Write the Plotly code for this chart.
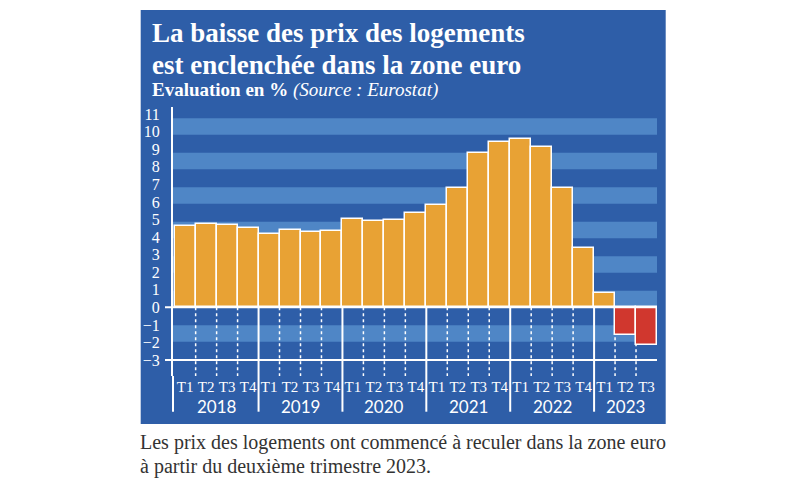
import plotly.graph_objects as go

# ==========================================
# Data
# ==========================================
years = ["2018", "2019", "2020", "2021", "2022", "2023"]
quarters = [
    "T1", "T2", "T3", "T4",  # 2018
    "T1", "T2", "T3", "T4",  # 2019
    "T1", "T2", "T3", "T4",  # 2020
    "T1", "T2", "T3", "T4",  # 2021
    "T1", "T2", "T3", "T4",  # 2022
    "T1", "T2", "T3",        # 2023
]
bar_years = (["2018"] * 4 + ["2019"] * 4 + ["2020"] * 4
             + ["2021"] * 4 + ["2022"] * 4 + ["2023"] * 3)
values = [
    4.65, 4.76, 4.69, 4.50,
    4.17, 4.40, 4.27, 4.33,
    5.01, 4.90, 4.95, 5.35,
    5.81, 6.81, 8.77, 9.43,
    9.60, 9.15, 6.79, 3.39,
    0.81, -1.58, -2.16,
]
y_ticks = list(range(-3, 12))

# ==========================================
# Geometry and colours
# (page pixels; the page body has an 8px margin)
# ==========================================
OFF = 8
W, H = 800 - OFF, 493 - OFF
L, R, T, B = 173 - OFF, 143, 107 - OFF, 117
PW, PH = W - L - R, H - T - B
Y_MIN, Y_MAX = -3.91, 11.41

BLUE = "#2e5ea8"
LIGHT = "#4f86c6"
ORANGE = "#e8a234"
RED = "#d0372e"
SERIF = "Liberation Serif"


def px_x(px):
    return (px - OFF - L) / PW


def px_y(py):
    return (H - B - (py - OFF)) / PH


def val_y(v):
    return (v - Y_MIN) / (Y_MAX - Y_MIN)


cats = [f"{y} {q}" for y, q in zip(bar_years, quarters)]
colors = [ORANGE if v >= 0 else RED for v in values]

fig = go.Figure()
fig.add_trace(go.Bar(
    x=cats, y=values,
    marker=dict(color=colors, line=dict(color="white", width=1.5)),
    hoverinfo="x+y",
))

shapes = []
# blue panel
shapes.append(dict(type="rect", xref="paper", yref="paper",
                   x0=px_x(140.7), x1=px_x(665.7), y0=px_y(424), y1=px_y(10),
                   fillcolor=BLUE, line=dict(width=0), layer="below"))
# light stripes
for k in range(-1, 6):
    b0 = k * 1.966
    shapes.append(dict(type="rect", xref="paper", yref="y",
                       x0=0, x1=1, y0=b0, y1=b0 + 0.94,
                       fillcolor=LIGHT, line=dict(width=0), layer="below"))

# separators under the zero line
for i in range(1, len(cats)):
    xb = i - 0.5
    if bar_years[i] != bar_years[i - 1]:
        shapes.append(dict(type="line", xref="x", yref="paper",
                           x0=xb, x1=xb, y0=val_y(0), y1=px_y(411.7),
                           line=dict(color="white", width=2), layer="below"))
    else:
        shapes.append(dict(type="line", xref="x", yref="y",
                           x0=xb, x1=xb, y0=0, y1=Y_MIN,
                           line=dict(color="white", width=1.5, dash="3px,3px"),
                           layer="below"))

# zero and -3 lines
for yv in (0, -3):
    shapes.append(dict(type="line", xref="paper", yref="y",
                       x0=px_x(165), x1=1, y0=yv, y1=yv,
                       line=dict(color="white", width=2)))
# axis line continued down to the years
shapes.append(dict(type="line", xref="paper", yref="paper",
                   x0=0, x1=0, y0=0, y1=px_y(411.7),
                   line=dict(color="white", width=2)))

annotations = []
# year labels
for yr in years:
    idx = [i for i, y in enumerate(bar_years) if y == yr]
    annotations.append(dict(xref="x", yref="paper",
                            x=(idx[0] + idx[-1]) / 2, y=px_y(406),
                            text=yr, showarrow=False, yanchor="middle",
                            font=dict(family="Lato", size=17, color="white")))

annotations.append(dict(xref="paper", yref="paper", x=px_x(150), y=px_y(33.5),
                        xanchor="left", yanchor="middle", showarrow=False,
                        text="<b>La baisse des prix des logements</b>",
                        font=dict(family=SERIF, size=27, color="white")))
annotations.append(dict(xref="paper", yref="paper", x=px_x(150), y=px_y(64.5),
                        xanchor="left", yanchor="middle", showarrow=False,
                        text="<b>est enclenchée dans la zone euro</b>",
                        font=dict(family=SERIF, size=27, color="white")))
annotations.append(dict(xref="paper", yref="paper", x=px_x(150), y=px_y(90),
                        xanchor="left", yanchor="middle", showarrow=False,
                        text="<b>Evaluation en %</b> <i>(Source : Eurostat)</i>",
                        font=dict(family=SERIF, size=19, color="white")))
annotations.append(dict(xref="paper", yref="paper", x=px_x(138), y=px_y(442),
                        xanchor="left", yanchor="middle", showarrow=False,
                        text="Les prix des logements ont commencé à reculer dans la zone euro",
                        font=dict(family=SERIF, size=20, color="#333333")))
annotations.append(dict(xref="paper", yref="paper", x=px_x(138), y=px_y(467),
                        xanchor="left", yanchor="middle", showarrow=False,
                        text="à partir du deuxième trimestre 2023.",
                        font=dict(family=SERIF, size=20, color="#333333")))

fig.update_layout(
    width=W, height=H,
    margin=dict(l=L, r=R, t=T, b=B, pad=0),
    paper_bgcolor="white",
    plot_bgcolor="rgba(0,0,0,0)",
    bargap=0,
    showlegend=False,
    shapes=shapes,
    annotations=annotations,
    xaxis=dict(
        type="category", range=[-0.58, len(cats) - 0.5],
        tickmode="array", tickvals=cats, ticktext=quarters,
        showgrid=False, zeroline=False, showline=False, ticks="",
        tickfont=dict(family=SERIF, size=15, color="white"),
        fixedrange=True,
    ),
    yaxis=dict(
        range=[Y_MIN, Y_MAX],
        tickmode="array", tickvals=y_ticks,
        showgrid=False, zeroline=False,
        showline=True, linecolor="white", linewidth=2,
        ticks="", ticklabelstandoff=8,
        tickfont=dict(family=SERIF, size=16, color="white"),
        fixedrange=True,
    ),
)

fig.write_html("out.html")
